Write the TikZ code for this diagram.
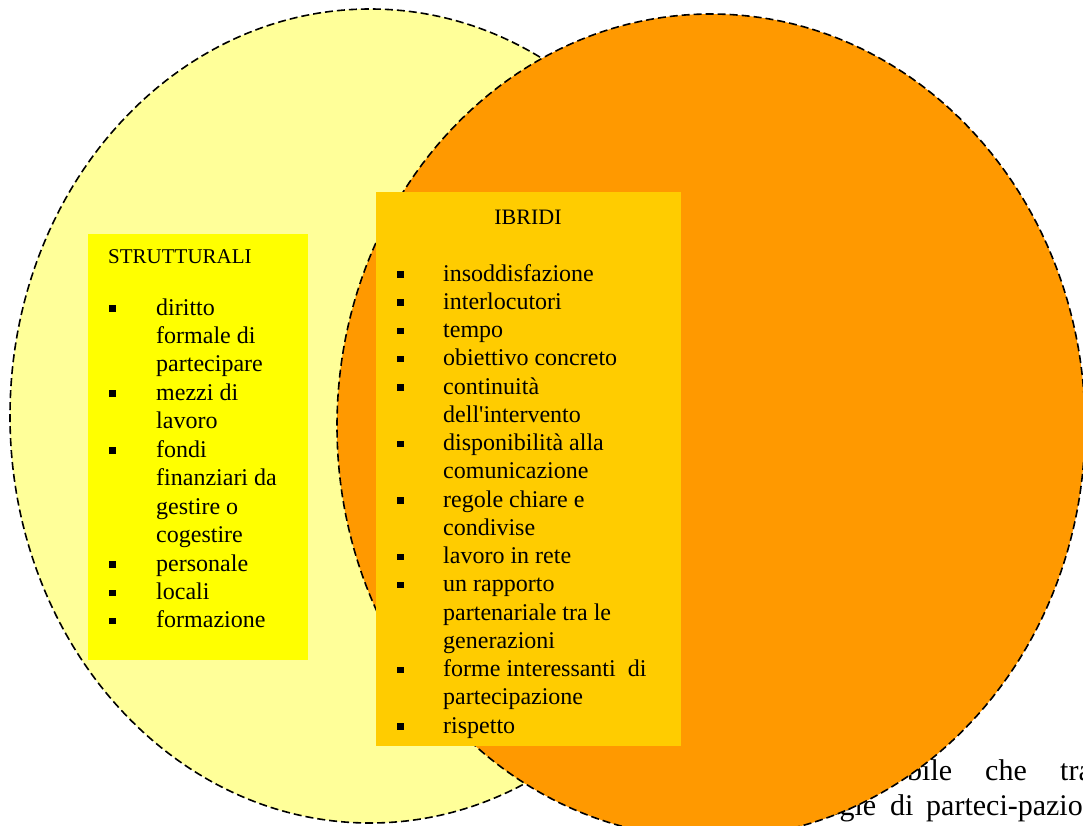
\documentclass[tikz,border=0pt]{standalone}
\usepackage{fontspec}
\setmainfont{Liberation Serif}
\definecolor{paleyellow}{HTML}{FFFF99}
\definecolor{venorange}{HTML}{FF9900}
\definecolor{boxyellow}{HTML}{FFFF00}
\definecolor{boxgold}{HTML}{FFCC00}
\tikzset{
  venn/.style={draw=black, line width=1.6pt, dash pattern=on 8pt off 4pt},
  item/.style={anchor=base west, inner sep=0pt, font=\fontsize{24}{28}\selectfont},
  head/.style={inner sep=0pt, font=\fontsize{22}{26}\selectfont},
  tail/.style={anchor=base west, inner sep=0pt, font=\fontsize{30}{34}\selectfont}
}
\newcommand{\sqbullet}[2]{\fill (#1,{#2-10}) rectangle ++(6.5,6.5);}
\begin{document}
\begin{tikzpicture}[x=1pt,y=-1pt]
	\useasboundingbox (0,0) rectangle (1083,825);
	\clip (0,0) rectangle (1083,825);
	\fill[white] (0,0) rectangle (1083,825);
	% left set
	\draw[venn, fill=paleyellow] (370,416) ellipse [x radius=360, y radius=407];
	% running text behind the right set
	\node[tail] (w1) at (907,780) {bile};
	\node[tail] (w2) at (985,780) {che};
	\node[tail] (w3) at (1060,780) {tra};
	\node[tail] (w4) at (826,815) {egie};
	\node[tail] (w5) at (890,815) {di};
	\node[tail] (w6) at (926,815) {parteci-pazio};
	% right set
	\draw[venn, fill=venorange] (711,426) ellipse [x radius=374, y radius=412];
	% boxes
	\fill[boxyellow] (88,234) rectangle (308,660);
	\fill[boxgold] (376,192) rectangle (681,746);
	\node[head, anchor=base west, font=\fontsize{21}{25}\selectfont] (strut) at (108,263) {STRUTTURALI};
	\node[head, anchor=base] (ibr) at (528,224) {IBRIDI};
	\foreach \b/\txt [count=\i] in {1/diritto, 0/formale di, 0/partecipare, 1/mezzi di, 0/lavoro,
			1/fondi, 0/finanziari da, 0/gestire o, 0/cogestire, 1/personale, 1/locali, 1/formazione}{
		\node[item] (s\i) at (156,{315+(\i-1)*28.45}) {\txt};
		\ifnum\b=1 \sqbullet{109}{315+(\i-1)*28.45} \fi
	}
	\foreach \b/\txt [count=\i] in {1/insoddisfazione, 1/interlocutori, 1/tempo, 1/obiettivo concreto,
			1/continuità, 0/dell\textquotesingle intervento, 1/disponibilità alla, 0/comunicazione,
			1/regole chiare e, 0/condivise, 1/lavoro in rete, 1/un rapporto, 0/partenariale tra le,
			0/generazioni, 1/forme interessanti\ \ di, 0/partecipazione, 1/rispetto}{
		\node[item] (h\i) at (443,{281+(\i-1)*28.25}) {\txt};
		\ifnum\b=1 \sqbullet{397}{281+(\i-1)*28.25} \fi
	}
\end{tikzpicture}
\end{document}
